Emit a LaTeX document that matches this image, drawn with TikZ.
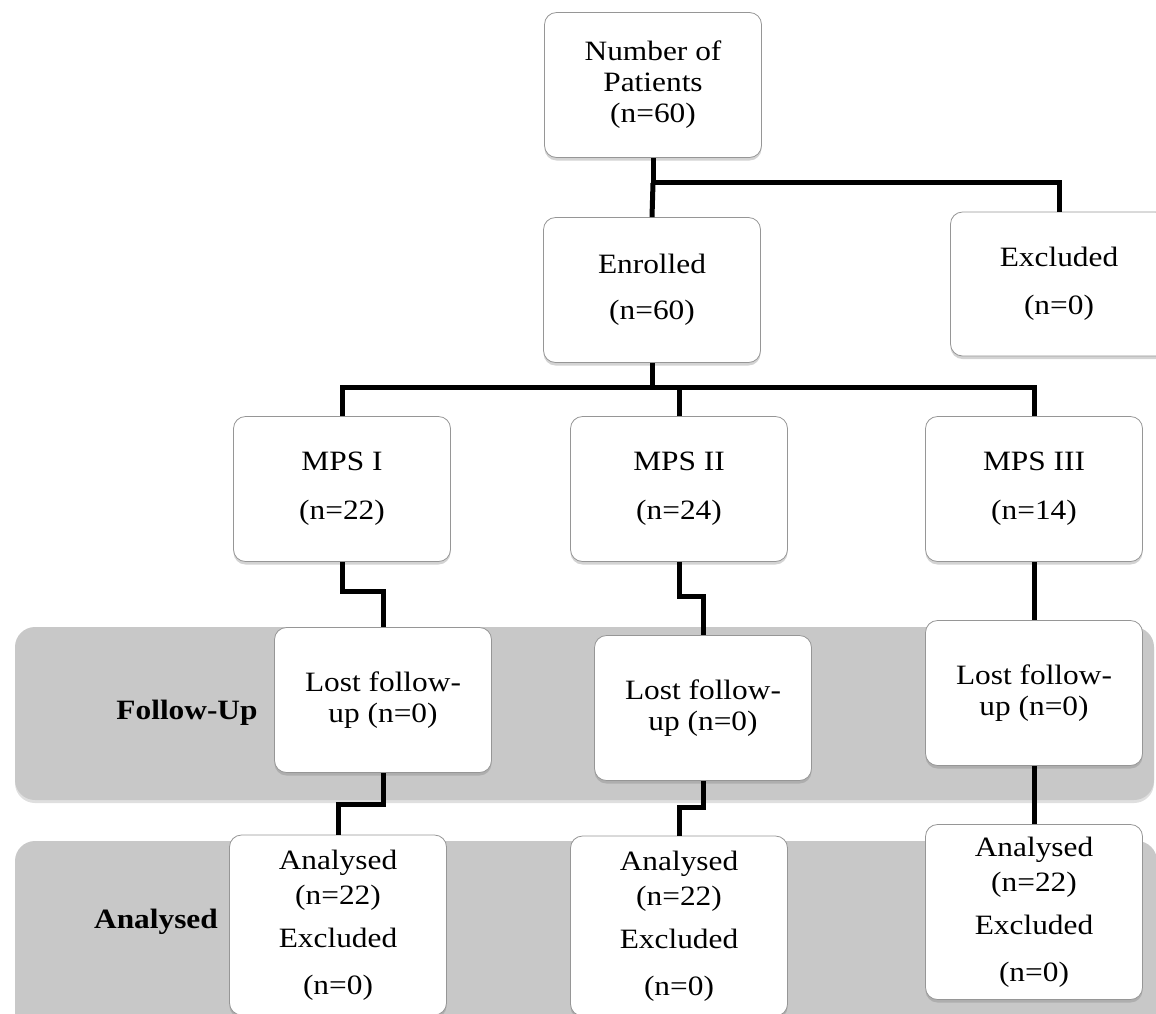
\documentclass[tikz,border=0pt]{standalone}
\usepackage{fontspec}
\setmainfont{Liberation Serif}[FakeStretch=1.12]
\usepackage{tikz}
\usetikzlibrary{shadows}
\definecolor{bandgray}{RGB}{200,200,200}
\definecolor{edgegray}{RGB}{150,150,150}
\tikzstyle{box} = [rectangle, rounded corners=12pt, minimum width=217pt, minimum height=145pt, text centered, align=center, inner sep=0pt, draw=edgegray, line width=0.8pt, fill=white, drop shadow={shadow xshift=0pt, shadow yshift=-3pt, opacity=0.35}]
\tikzstyle{band} = [fill=bandgray, rounded corners=20pt, drop shadow={shadow xshift=0pt, shadow yshift=-3pt, opacity=0.25}]
\tikzstyle{link} = [line width=5pt, black]

\begin{document}
\begin{tikzpicture}[x=1pt, y=-1pt, font=\fontsize{28}{31}\selectfont]
\useasboundingbox (0,0) rectangle (1156,1013);
\clip (0,0) rectangle (1156,1013);

\path[band] (15,627) rectangle (1154,800);
\path[band] (15,841) rectangle (1157,1060);
\node (fu) at (187,713) {\textbf{Follow-Up}};
\node (an) at (156,922) {\textbf{Analysed}};

\node (num) [box] at (653,85) {Number of\\Patients\\(n=60)};
\node (enr) [box] at (652,290) {Enrolled\\[15pt](n=60)};
\node (exc) [box, minimum height=144pt] at (1059,284) {Excluded\\[17pt](n=0)};

\node (mps1) [box] at (342,489) {MPS I\\[18pt](n=22)};
\node (mps2) [box] at (679,489) {MPS II\\[18pt](n=24)};
\node (mps3) [box] at (1034,489) {MPS III\\[18pt](n=14)};

\node (lost1) [box] at (383,700) {Lost follow-\\up (n=0)};
\node (lost2) [box] at (703,708) {Lost follow-\\up (n=0)};
\node (lost3) [box] at (1034,693) {Lost follow-\\up (n=0)};

\node (ana1) [box, minimum height=180pt] at (338,925) {Analysed\\[4pt](n=22)\\[12pt]Excluded\\[16pt](n=0)};
\node (ana2) [box, minimum height=180pt] at (679,926) {Analysed\\[4pt](n=22)\\[12pt]Excluded\\[16pt](n=0)};
\node (ana3) [box, minimum height=175pt] at (1034,912) {Analysed\\[4pt](n=22)\\[12pt]Excluded\\[16pt](n=0)};

\draw[link] (num.south) -- ++(0,25) coordinate (split) -| (exc.north);
\draw[link] (split) -- (enr.north);
\draw[link] (enr.south) -- ++(0,25) coordinate (fork);
\draw[link] (fork) -| (mps1.north);
\draw[link] (fork) -| (mps2.north);
\draw[link] (fork) -| (mps3.north);

\draw[link] (mps1.south) -- ++(0,30) -| (lost1.north);
\draw[link] (mps2.south) -- ++(0,35) -| (lost2.north);
\draw[link] (mps3.south) -- (lost3.north);
\draw[link] (lost1.south) -- ++(0,32) -| (ana1.north);
\draw[link] (lost2.south) -- ++(0,27) -| (ana2.north);
\draw[link] (lost3.south) -- (ana3.north);
\end{tikzpicture}
\end{document}
